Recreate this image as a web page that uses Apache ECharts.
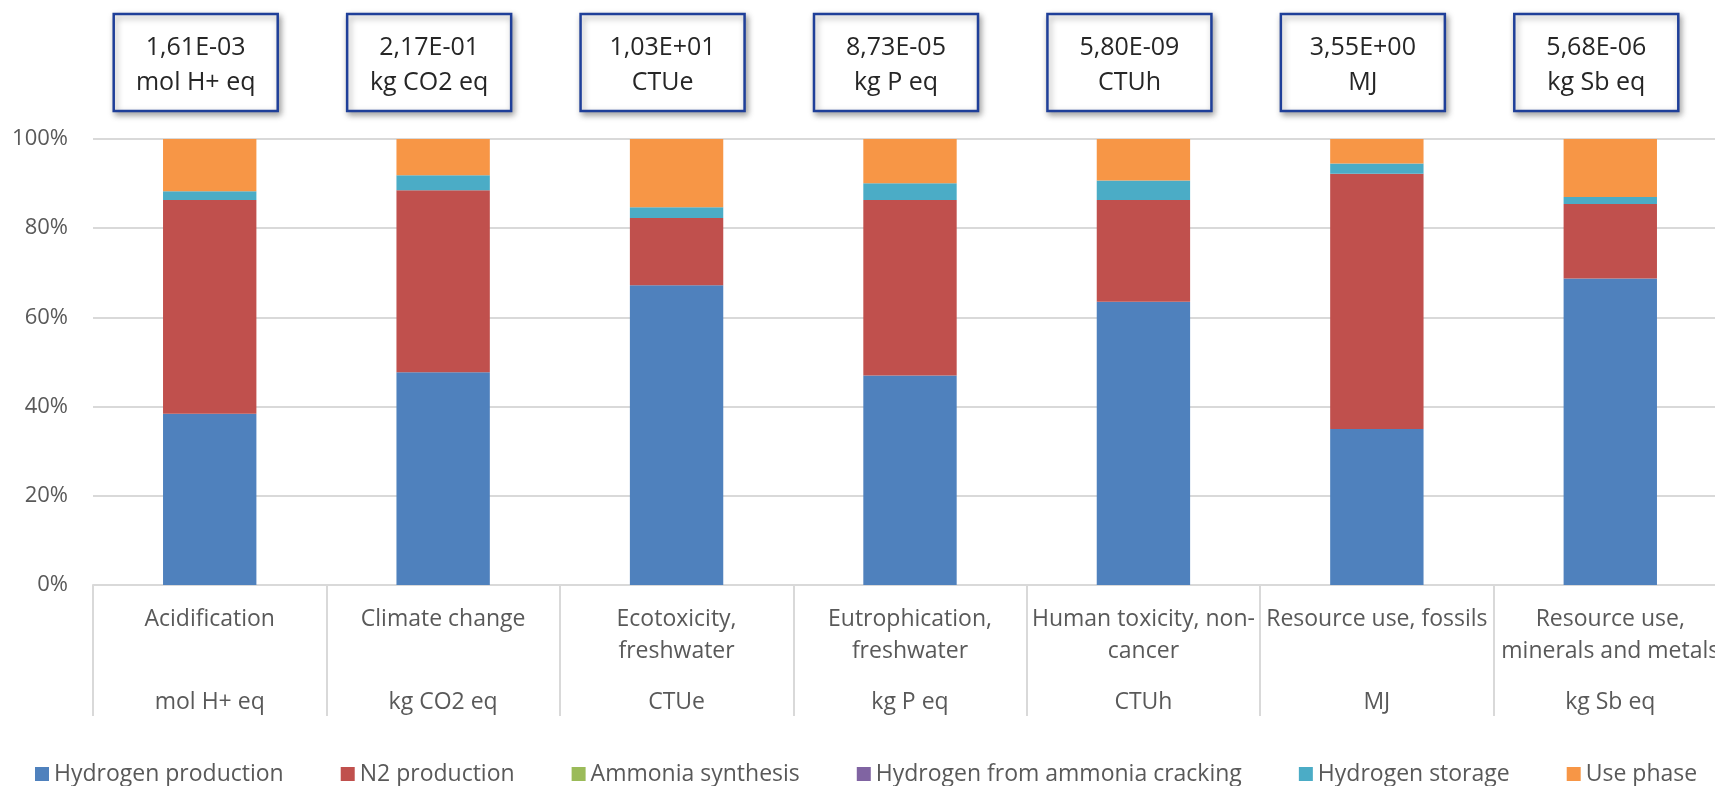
<!DOCTYPE html>
<html>
<head>
<meta charset="utf-8">
<script src="https://cdn.jsdelivr.net/npm/echarts@6/dist/echarts.min.js"></script>
<style>
  html, body { margin: 0; padding: 0; background: #ffffff; }
  #chart { width: 1715px; height: 786px; }
</style>
</head>
<body>
<div id="chart"></div>
<script>
// Impact categories (first label row) and their units (second label row)
const categories = [
  'Acidification',
  'Climate change',
  'Ecotoxicity,\nfreshwater',
  'Eutrophication,\nfreshwater',
  'Human toxicity, non-\ncancer',
  'Resource use, fossils',
  'Resource use,\nminerals and metals'
];
const units = ['mol H+ eq', 'kg CO2 eq', 'CTUe', 'kg P eq', 'CTUh', 'MJ', 'kg Sb eq'];

// Total impact per category, shown in the boxes above the bars
const totals = ['1,61E-03', '2,17E-01', '1,03E+01', '8,73E-05', '5,80E-09', '3,55E+00', '5,68E-06'];

// Contribution of each life-cycle stage, in % of the category total
const hydrogenProduction = [38.4, 47.7, 67.2, 47.0, 63.5, 35.0, 68.7];
const n2Production       = [47.9, 40.8, 15.1, 39.3, 22.8, 57.2, 16.7];
const ammoniaSynthesis   = [0, 0, 0, 0, 0, 0, 0];
const ammoniaCracking    = [0, 0, 0, 0, 0, 0, 0];
const hydrogenStorage    = [2.0, 3.4, 2.4, 3.8, 4.4, 2.3, 1.6];
const usePhase           = [11.7, 8.1, 15.3, 9.9, 9.3, 5.5, 13.0];

const seriesNames = [
  'Hydrogen production', 'N2 production', 'Ammonia synthesis',
  'Hydrogen from ammonia cracking', 'Hydrogen storage', 'Use phase'
];
const seriesData = [hydrogenProduction, n2Production, ammoniaSynthesis,
                    ammoniaCracking, hydrogenStorage, usePhase];
const colors = ['#4F81BD', '#C0504D', '#9BBB59', '#8064A2', '#4BACC6', '#F79646'];

const FONT = '"Open Sans", "Liberation Sans", sans-serif';
const LABEL_GREY = '#595959';
const GRID_GREY = '#D9D9D9';

const chart = echarts.init(document.getElementById('chart'), null, { renderer: 'canvas' });

const option = {
  animation: false,
  backgroundColor: '#ffffff',
  color: colors,
  textStyle: { fontFamily: FONT },
  grid: {
    left: 93, right: -12, top: 139, bottom: 201,
    containLabel: false,
    outerBoundsMode: 'none'
  },
  legend: {
    data: seriesNames,
    left: 35,
    top: 762,
    width: 1720,
    padding: 0,
    itemWidth: 14,
    itemHeight: 14,
    itemGap: 57,
    icon: 'rect',
    textStyle: { color: LABEL_GREY, fontSize: 23, fontFamily: FONT, lineHeight: 24 }
  },
  xAxis: [
    {
      type: 'category',
      data: categories,
      position: 'bottom',
      axisLine: { show: true, lineStyle: { color: GRID_GREY, width: 2 } },
      axisTick: { show: true, interval: 0, length: 131, lineStyle: { color: GRID_GREY, width: 2 } },
      axisLabel: {
        interval: 0, margin: 18, lineHeight: 32,
        fontSize: 23, color: LABEL_GREY, fontFamily: FONT
      },
      splitLine: { show: false }
    },
    {
      type: 'category',
      data: units,
      position: 'bottom',
      axisLine: { show: false },
      axisTick: { show: false },
      axisLabel: {
        interval: 0, margin: 101, lineHeight: 32,
        fontSize: 23, color: LABEL_GREY, fontFamily: FONT
      },
      splitLine: { show: false }
    }
  ],
  yAxis: {
    type: 'value',
    min: 0, max: 100, interval: 20,
    axisLine: { show: false },
    axisTick: { show: false },
    axisLabel: { formatter: '{value}%', margin: 25, fontSize: 22, color: LABEL_GREY, fontFamily: FONT },
    splitLine: { show: true, lineStyle: { color: GRID_GREY, width: 2 } }
  },
  series: seriesNames.map((name, i) => ({
    name: name,
    type: 'bar',
    stack: 'share',
    barWidth: '40%',
    data: seriesData[i],
    itemStyle: { color: colors[i] },
    emphasis: { disabled: true }
  }))
};

chart.setOption(option);

// Boxes above the bars with the category total and its unit
const BOX_W = 164, BOX_H = 97;
const boxes = totals.map((total, i) => {
  const cx = chart.convertToPixel({ xAxisIndex: 0 }, i) - 14;
  return {
    type: 'group',
    x: cx - BOX_W / 2,
    y: 14,
    children: [
      {
        type: 'rect',
        shape: { x: 0, y: 0, width: BOX_W, height: BOX_H },
        style: {
          fill: '#ffffff', stroke: '#1F3F99', lineWidth: 2.5,
          shadowBlur: 6, shadowOffsetX: 2, shadowOffsetY: 3,
          shadowColor: 'rgba(0,0,0,0.35)'
        }
      },
      {
        type: 'text',
        x: BOX_W / 2,
        y: 51,
        style: {
          text: total + '\n' + units[i],
          fill: '#262626',
          fontSize: 25,
          fontFamily: FONT,
          lineHeight: 35,
          align: 'center', textAlign: 'center',
          verticalAlign: 'middle', textVerticalAlign: 'middle'
        }
      }
    ]
  };
});

chart.setOption({ graphic: boxes });
</script>
</body>
</html>
